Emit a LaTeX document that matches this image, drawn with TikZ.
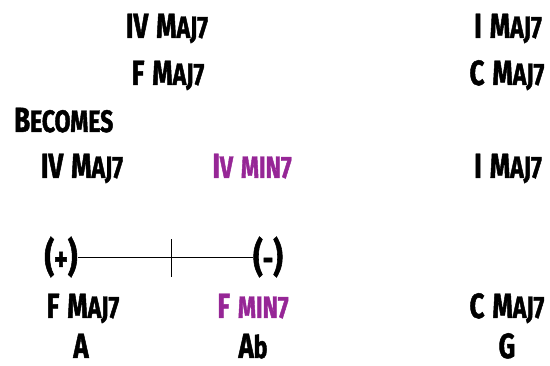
\documentclass[tikz,border=0pt]{standalone}
\usepackage{fontspec}
\setmainfont{Fira Sans}[FakeStretch=0.74, BoldFeatures={FakeBold=1.4}]
\definecolor{minpurple}{RGB}{150,38,150}
\newcommand\Bg[1]{{\fontsize{35}{35}\selectfont #1}}
\newcommand\Sm[1]{{\fontsize{31}{31}\selectfont #1}}
\newcommand\Pn[1]{{\fontsize{40}{40}\selectfont #1}}
\newcommand\gap{\hspace{8pt}}
\tikzset{
  lbl/.style={inner sep=0pt, anchor=base, font=\bfseries},
  minlbl/.style={lbl, text=minpurple},
  axisline/.style={line width=1pt}
}
\begin{document}
\begin{tikzpicture}[x=1pt,y=-1pt]
\useasboundingbox (0,0) rectangle (550,366);
% top rows
\node[lbl] (t1) at (167,38) {\Bg{IV}\gap\Bg{M}\Sm{AJ7}};
\node[lbl] (t2) at (508,38) {\Bg{I}\gap\Bg{M}\Sm{AJ7}};
\node[lbl] (t3) at (168,85) {\Bg{F}\gap\Bg{M}\Sm{AJ7}};
\node[lbl] (t4) at (507,85) {\Bg{C}\gap\Bg{M}\Sm{AJ7}};
\node[lbl, anchor=base west] (bec) at (14,132) {\Bg{B}\Sm{ECOMES}};
% becomes row
\node[lbl] (r1) at (82,178) {\Bg{IV}\gap\Bg{M}\Sm{AJ7}};
\node[minlbl] (r2) at (252,178) {\Bg{I}\Sm{V}\gap\Sm{MIN7}};
\node[lbl] (r3) at (508,178) {\Bg{I}\gap\Bg{M}\Sm{AJ7}};
% axis
\coordinate (tick) at (171,258);
\node[lbl] (plus) at (61,271) {\Pn{(}\Bg{+}\Pn{)}};
\node[lbl] (minus) at (268,271) {\Pn{(}\Bg{-}\Pn{)}};
\draw[axisline] (plus.east |- tick) -- (minus.west |- tick);
\draw[axisline] ([yshift=-19pt]tick) -- ([yshift=19pt]tick);
% bottom rows
\node[lbl] (b1) at (83,318) {\Bg{F}\gap\Bg{M}\Sm{AJ7}};
\node[minlbl] (b2) at (253,318) {\Bg{F}\gap\Sm{MIN7}};
\node[lbl] (b3) at (507,318) {\Bg{C}\gap\Bg{M}\Sm{AJ7}};
\node[lbl] (n1) at (81,358) {\Bg{A}};
\node[lbl] (n2) at (253,358) {\Bg{A}\Sm{b}};
\node[lbl] (n3) at (507,358) {\Bg{G}};
\end{tikzpicture}
\end{document}
